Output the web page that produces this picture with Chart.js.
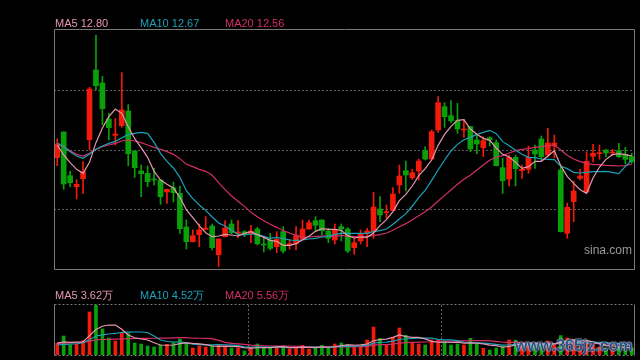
<!DOCTYPE html>
<html>
<head>
<meta charset="utf-8">
<script src="https://cdn.jsdelivr.net/npm/chart.js@4.4.1/dist/chart.umd.min.js"></script>
<style>
  html, body { margin: 0; padding: 0; background: #000; }
  #wrap { position: relative; width: 640px; height: 360px; overflow: hidden; background: #000; }
  #wrap canvas { position: absolute; left: 0; }
  #kline { top: 0; }
  #vol { top: 280px; }
  .lg { position: absolute; font: 11px "Liberation Sans", Arial, sans-serif; line-height: 12px; white-space: nowrap; }
  #sina { position: absolute; left: 584px; top: 243px; font: 12px "Liberation Sans", Arial, sans-serif; color: #9a9a9a; }
  #mark { position: absolute; left: 515px; top: 337px; font: bold 16px "Liberation Sans", Arial, sans-serif; color: #2d4f82;
          white-space: nowrap; text-shadow: 0 0 2px #dbe8f5, 0 0 1px #dbe8f5; }
</style>
</head>
<body>
<div id="wrap">
  <canvas id="kline" width="640" height="280"></canvas>
  <canvas id="vol" width="640" height="80"></canvas>
  <span class="lg" id="m5" style="left:55px;top:17px"></span>
  <span class="lg" id="m10" style="left:140px;top:17px"></span>
  <span class="lg" id="m20" style="left:225px;top:17px"></span>
  <span class="lg" id="v5" style="left:55px;top:289px"></span>
  <span class="lg" id="v10" style="left:140px;top:289px"></span>
  <span class="lg" id="v20" style="left:225px;top:289px"></span>
  <div id="sina">sina.com</div>
  <div id="mark">www.365jz.com</div>
</div>
<script>
// 90 trading days, prices in yuan, volume in 万
var days = Array.from({ length: 90 }, function (_, i) { return 'D' + (i + 1); });

var open = [12.75, 13.52, 12.21, 11.88, 12.12, 13.29, 15.38, 14.99, 13.91, 13.42,
  13.71, 14.15, 12.95, 12.35, 12.28, 12.11, 12.08, 11.72, 11.85, 11.68,
  10.67, 10.23, 10.44, 10.60, 10.70, 9.84, 10.38, 10.76, 10.48, 10.53,
  10.46, 10.61, 10.16, 10.28, 10.08, 10.53, 10.14, 10.18, 10.31, 10.61,
  10.86, 10.88, 10.55, 10.28, 10.68, 10.61, 10.05, 10.25, 10.48, 10.53,
  11.21, 11.10, 11.16, 11.93, 12.36, 12.15, 12.35, 12.96, 12.71, 13.58,
  14.28, 14.01, 13.86, 13.58, 13.68, 13.28, 13.05, 13.35, 13.20, 12.45,
  12.11, 12.76, 12.36, 12.40, 12.98, 13.31, 12.83, 13.10, 12.38, 10.48,
  11.43, 12.13, 11.72, 12.79, 12.87, 12.98, 12.89, 12.96, 12.85, 12.78];

var high = [13.31, 13.53, 12.35, 12.09, 12.63, 14.86, 16.43, 15.19, 14.09, 13.93,
  15.30, 14.34, 12.96, 12.53, 12.50, 12.43, 12.09, 11.81, 12.02, 11.90,
  10.88, 10.58, 10.76, 10.98, 10.76, 10.31, 10.86, 10.88, 10.86, 10.56,
  10.72, 10.66, 10.38, 10.48, 10.53, 10.68, 10.30, 10.68, 10.88, 10.88,
  10.98, 10.89, 10.63, 10.76, 10.76, 10.65, 10.33, 10.58, 10.63, 11.71,
  11.58, 11.33, 11.85, 12.53, 12.65, 12.40, 12.71, 13.08, 13.58, 14.58,
  14.40, 14.46, 14.38, 13.90, 13.69, 13.43, 13.38, 13.38, 13.28, 12.73,
  12.83, 12.83, 12.53, 13.10, 13.13, 13.40, 13.63, 13.43, 12.48, 11.39,
  12.05, 12.40, 12.93, 13.15, 13.13, 13.00, 13.00, 13.18, 13.06, 12.88];

var low = [12.51, 11.80, 11.88, 11.51, 11.68, 12.98, 14.78, 13.73, 13.28, 13.13,
  13.66, 12.51, 12.16, 11.58, 11.88, 11.93, 11.35, 11.38, 11.42, 10.48,
  10.01, 10.22, 10.08, 10.59, 9.98, 9.48, 10.37, 10.46, 10.34, 10.38,
  10.20, 10.13, 9.92, 9.98, 9.90, 9.89, 10.00, 9.98, 10.30, 10.60,
  10.56, 10.43, 10.20, 10.16, 10.25, 9.90, 9.85, 10.16, 10.08, 10.33,
  10.83, 10.93, 11.15, 11.68, 11.75, 12.10, 12.08, 12.68, 12.70, 13.51,
  13.66, 13.80, 13.48, 13.36, 12.93, 12.86, 12.78, 13.10, 12.50, 11.68,
  11.90, 11.90, 12.13, 12.28, 12.43, 12.68, 12.77, 12.74, 10.52, 10.33,
  10.83, 12.08, 11.71, 12.62, 12.70, 12.78, 12.83, 12.75, 12.56, 12.58];

var close = [13.16, 11.96, 12.00, 11.95, 12.33, 14.81, 14.91, 14.22, 13.65, 13.46,
  14.18, 12.87, 12.45, 12.27, 12.03, 12.08, 11.58, 11.80, 11.70, 10.62,
  10.23, 10.41, 10.58, 10.64, 10.05, 10.31, 10.64, 10.50, 10.52, 10.45,
  10.55, 10.17, 10.13, 10.03, 10.30, 9.95, 10.17, 10.41, 10.61, 10.80,
  10.72, 10.56, 10.33, 10.60, 10.61, 9.95, 10.20, 10.48, 10.55, 11.27,
  11.03, 11.12, 11.66, 12.20, 12.23, 12.30, 12.65, 12.71, 13.53, 14.40,
  13.98, 13.86, 13.61, 13.61, 13.01, 13.16, 13.26, 13.28, 12.51, 12.06,
  12.76, 12.42, 12.40, 12.76, 12.86, 12.78, 13.19, 13.19, 10.53, 11.26,
  11.75, 12.20, 12.64, 12.88, 12.90, 12.89, 12.91, 12.78, 12.70, 12.63];

var ma5 = [13.13, 12.83, 12.60, 12.40, 12.28, 12.61, 13.20, 13.64, 13.98, 14.21,
  14.08, 13.68, 13.32, 13.05, 12.76, 12.34, 12.08, 11.95, 11.84, 11.56,
  11.19, 10.95, 10.71, 10.50, 10.38, 10.40, 10.45, 10.43, 10.40, 10.48,
  10.53, 10.44, 10.36, 10.27, 10.24, 10.12, 10.12, 10.17, 10.29, 10.39,
  10.54, 10.62, 10.60, 10.60, 10.57, 10.41, 10.34, 10.37, 10.36, 10.49,
  10.71, 10.89, 11.13, 11.46, 11.65, 11.90, 12.21, 12.42, 12.68, 13.12,
  13.45, 13.69, 13.87, 13.89, 13.61, 13.45, 13.33, 13.27, 13.04, 12.85,
  12.77, 12.61, 12.43, 12.48, 12.64, 12.64, 12.80, 12.96, 12.51, 12.19,
  11.98, 11.79, 11.68, 12.14, 12.47, 12.70, 12.84, 12.87, 12.84, 12.80];

var ma10 = [13.18, 13.08, 12.93, 12.80, 12.73, 12.86, 13.00, 13.10, 13.18, 13.24,
  13.35, 13.44, 13.48, 13.51, 13.48, 13.21, 12.88, 12.64, 12.44, 12.16,
  11.76, 11.52, 11.33, 11.17, 10.97, 10.79, 10.70, 10.57, 10.45, 10.43,
  10.46, 10.44, 10.39, 10.33, 10.36, 10.32, 10.28, 10.27, 10.28, 10.31,
  10.33, 10.37, 10.39, 10.45, 10.48, 10.48, 10.48, 10.48, 10.48, 10.53,
  10.56, 10.61, 10.75, 10.91, 11.07, 11.30, 11.55, 11.77, 12.07, 12.38,
  12.68, 12.95, 13.15, 13.29, 13.36, 13.45, 13.51, 13.57, 13.47, 13.23,
  13.11, 12.97, 12.85, 12.76, 12.75, 12.71, 12.70, 12.69, 12.49, 12.42,
  12.31, 12.29, 12.31, 12.33, 12.33, 12.34, 12.31, 12.27, 12.49, 12.67];

var ma20 = [13.18, 13.08, 12.96, 12.85, 12.80, 12.88, 13.00, 13.08, 13.13, 13.18,
  13.25, 13.28, 13.25, 13.20, 13.13, 13.06, 13.00, 12.93, 12.85, 12.72,
  12.55, 12.48, 12.40, 12.34, 12.22, 12.00, 11.79, 11.60, 11.44, 11.29,
  11.11, 10.98, 10.86, 10.75, 10.66, 10.56, 10.49, 10.42, 10.36, 10.37,
  10.39, 10.40, 10.39, 10.39, 10.42, 10.40, 10.38, 10.38, 10.38, 10.42,
  10.44, 10.49, 10.57, 10.68, 10.77, 10.89, 11.01, 11.13, 11.27, 11.45,
  11.62, 11.78, 11.95, 12.10, 12.22, 12.38, 12.53, 12.67, 12.77, 12.81,
  12.89, 12.96, 13.00, 13.02, 13.06, 13.08, 13.11, 13.13, 12.98, 12.82,
  12.71, 12.63, 12.58, 12.54, 12.54, 12.52, 12.51, 12.50, 12.51, 12.56];

var volume = [5.73, 9.31, 4.90, 5.24, 7.01, 21.07, 24.35, 12.74, 8.33, 6.86,
  10.63, 10.50, 5.88, 5.39, 4.41, 3.92, 4.90, 5.24, 6.03, 7.84,
  5.73, 3.43, 4.41, 3.92, 4.56, 4.75, 4.26, 3.43, 3.40, 1.96,
  3.58, 5.39, 3.55, 3.60, 3.62, 4.41, 2.94, 3.77, 4.75, 2.90,
  3.58, 4.70, 3.58, 5.39, 5.88, 5.05, 4.07, 4.56, 7.35, 13.72,
  8.18, 5.24, 8.67, 13.23, 9.65, 6.22, 5.39, 4.90, 7.35, 7.40,
  6.37, 4.90, 5.39, 4.90, 8.18, 5.39, 3.28, 2.45, 3.43, 4.41,
  7.35, 7.30, 4.50, 5.80, 4.60, 5.20, 6.80, 5.00, 9.50, 8.30,
  7.50, 3.92, 6.90, 5.00, 3.92, 3.43, 3.43, 3.92, 3.92, 3.43];

var vma5 = [5.80, 6.40, 6.20, 6.30, 6.44, 9.51, 12.51, 14.08, 14.70, 14.67,
  12.58, 9.81, 8.44, 7.85, 7.36, 6.02, 4.90, 4.77, 4.90, 5.59,
  5.95, 5.65, 5.49, 5.07, 4.41, 4.21, 4.38, 4.18, 4.08, 3.56,
  3.33, 3.55, 3.58, 3.62, 3.95, 4.11, 3.62, 3.67, 3.90, 3.75,
  3.59, 3.94, 3.90, 4.03, 4.63, 4.92, 4.79, 4.99, 5.38, 6.95,
  7.58, 7.81, 8.63, 9.81, 8.99, 8.60, 8.63, 7.88, 6.70, 6.25,
  6.28, 6.18, 6.28, 5.79, 5.95, 5.75, 5.43, 4.84, 4.55, 3.79,
  4.18, 4.99, 5.40, 5.87, 5.91, 5.48, 5.38, 5.48, 6.22, 6.96,
  7.42, 6.84, 7.22, 6.32, 5.45, 4.63, 4.54, 3.94, 3.72, 3.62];

var vma10 = [4.90, 5.20, 5.30, 5.50, 6.00, 7.50, 9.30, 9.90, 10.30, 10.55,
  11.04, 11.16, 11.26, 11.28, 11.02, 9.30, 7.36, 6.61, 6.38, 6.47,
  5.98, 5.28, 5.13, 4.98, 5.00, 5.08, 5.02, 4.84, 4.57, 3.99,
  3.77, 3.97, 3.88, 3.85, 3.75, 3.72, 3.59, 3.62, 3.76, 3.85,
  3.85, 3.78, 3.79, 3.96, 4.19, 4.25, 4.37, 4.45, 4.71, 5.79,
  6.25, 6.30, 6.81, 7.60, 7.97, 8.09, 8.22, 8.26, 8.26, 7.62,
  7.44, 7.41, 7.08, 6.25, 6.10, 6.02, 5.81, 5.56, 5.17, 4.87,
  4.97, 5.21, 5.12, 5.21, 4.85, 4.83, 5.18, 5.44, 6.05, 6.44,
  6.45, 6.11, 6.35, 6.27, 6.20, 6.03, 5.69, 5.58, 5.02, 4.52];

var vma20 = [5.70, 5.80, 5.90, 6.00, 6.20, 6.80, 7.40, 7.60, 7.70, 7.80,
  7.90, 8.00, 8.00, 8.10, 8.10, 8.20, 8.30, 8.30, 8.40, 8.51,
  8.51, 8.22, 8.20, 8.13, 8.01, 7.19, 6.19, 5.73, 5.48, 5.23,
  4.88, 4.63, 4.51, 4.42, 4.38, 4.40, 4.31, 4.23, 4.17, 3.92,
  3.81, 3.88, 3.84, 3.91, 3.97, 3.99, 3.98, 4.04, 4.24, 4.82,
  5.05, 5.04, 5.30, 5.78, 6.08, 6.17, 6.30, 6.36, 6.49, 6.71,
  6.85, 6.86, 6.95, 6.93, 7.04, 7.06, 7.02, 6.91, 6.72, 6.25,
  6.21, 6.31, 6.10, 5.73, 5.48, 5.43, 5.50, 5.50, 5.61, 5.66,
  5.71, 5.66, 5.74, 5.74, 5.53, 5.43, 5.44, 5.51, 5.54, 5.56];

var priceRange = [9.41, 16.58];
var priceGrid = [11.20, 12.995, 14.79];
var volumeMax = 24.5;
var monthBreaks = [29, 59]; // separator after these day indexes

var UP = '#f21a0a', DOWN = '#0aa00a';
var C5 = '#e597ad', C10 = '#1ba1b9', C20 = '#d22f66';
var FRAME = '#7a7a7a', GRID = '#5e5e5e';

var candleColor = close.map(function (c, i) { return c >= open[i] ? UP : DOWN; });

// grid lines, separators and panel frame
var panelFrame = {
  id: 'panelFrame',
  beforeDatasetsDraw: function (chart, args, o) {
    var ctx = chart.ctx, a = chart.chartArea, x = chart.scales.x, y = chart.scales.y;
    ctx.save();
    ctx.strokeStyle = GRID;
    ctx.lineWidth = 1;
    ctx.setLineDash([2, 2]);
    (o.hLines || []).forEach(function (v) {
      var py = Math.round(y.getPixelForValue(v)) + 0.5;
      ctx.beginPath(); ctx.moveTo(a.left, py); ctx.lineTo(a.right, py); ctx.stroke();
    });
    (o.vLines || []).forEach(function (i) {
      var px = Math.round((x.getPixelForValue(i) + x.getPixelForValue(i + 1)) / 2) + 0.5;
      ctx.beginPath(); ctx.moveTo(px, a.top); ctx.lineTo(px, a.bottom); ctx.stroke();
    });
    ctx.restore();
  },
  afterDraw: function (chart, args, o) {
    var ctx = chart.ctx, a = chart.chartArea;
    var l = a.left + 0.5, r = a.right - 0.5, t = a.top - 0.5, b = a.bottom + 0.5;
    ctx.save();
    ctx.lineWidth = 1;
    ctx.strokeStyle = FRAME;
    ctx.beginPath(); ctx.moveTo(l, t); ctx.lineTo(l, b); ctx.moveTo(r, t); ctx.lineTo(r, b); ctx.stroke();
    if (o.dottedEdges) ctx.setLineDash([2, 2]);
    ctx.beginPath(); ctx.moveTo(l, t); ctx.lineTo(r, t); ctx.moveTo(l, b); ctx.lineTo(r, b); ctx.stroke();
    ctx.restore();
  }
};

function maLine(data, color) {
  return { type: 'line', data: data, borderColor: color, borderWidth: 1.2, pointRadius: 0, tension: 0, order: 0 };
}

new Chart(document.getElementById('kline'), {
  type: 'bar',
  data: {
    labels: days,
    datasets: [
      maLine(ma5, C5), maLine(ma10, C10), maLine(ma20, C20),
      {
        data: open.map(function (o, i) { return [o, close[i]]; }),
        backgroundColor: candleColor, barThickness: 5, minBarLength: 1, grouped: false, order: 1
      },
      {
        data: low.map(function (l, i) { return [l, high[i]]; }),
        backgroundColor: candleColor, barThickness: 1, grouped: false, order: 2
      }
    ]
  },
  options: {
    responsive: false,
    animation: false,
    devicePixelRatio: 1,
    layout: { padding: { left: 54, right: 5, top: 30, bottom: 11 } },
    plugins: {
      legend: { display: false },
      tooltip: { enabled: false },
      panelFrame: { hLines: priceGrid, dottedEdges: false }
    },
    scales: {
      x: { display: false, offset: true },
      y: { display: false, min: priceRange[0], max: priceRange[1] }
    }
  },
  plugins: [panelFrame]
});

new Chart(document.getElementById('vol'), {
  type: 'bar',
  data: {
    labels: days,
    datasets: [
      maLine(vma5, C5), maLine(vma10, C10), maLine(vma20, C20),
      { data: volume, backgroundColor: candleColor, barThickness: 3, grouped: false, order: 1 }
    ]
  },
  options: {
    responsive: false,
    animation: false,
    devicePixelRatio: 1,
    layout: { padding: { left: 54, right: 5, top: 25, bottom: 5 } },
    plugins: {
      legend: { display: false },
      tooltip: { enabled: false },
      panelFrame: { vLines: monthBreaks, dottedEdges: true }
    },
    scales: {
      x: { display: false, offset: true },
      y: { display: false, min: 0, max: volumeMax }
    }
  },
  plugins: [panelFrame]
});

function legend(id, name, arr, unit, color) {
  var el = document.getElementById(id);
  el.textContent = name + ' ' + arr[arr.length - 1].toFixed(2) + unit;
  el.style.color = color;
}
legend('m5', 'MA5', ma5, '', C5);
legend('m10', 'MA10', ma10, '', C10);
legend('m20', 'MA20', ma20, '', C20);
legend('v5', 'MA5', vma5, '万', C5);
legend('v10', 'MA10', vma10, '万', C10);
legend('v20', 'MA20', vma20, '万', C20);
</script>
</body>
</html>
